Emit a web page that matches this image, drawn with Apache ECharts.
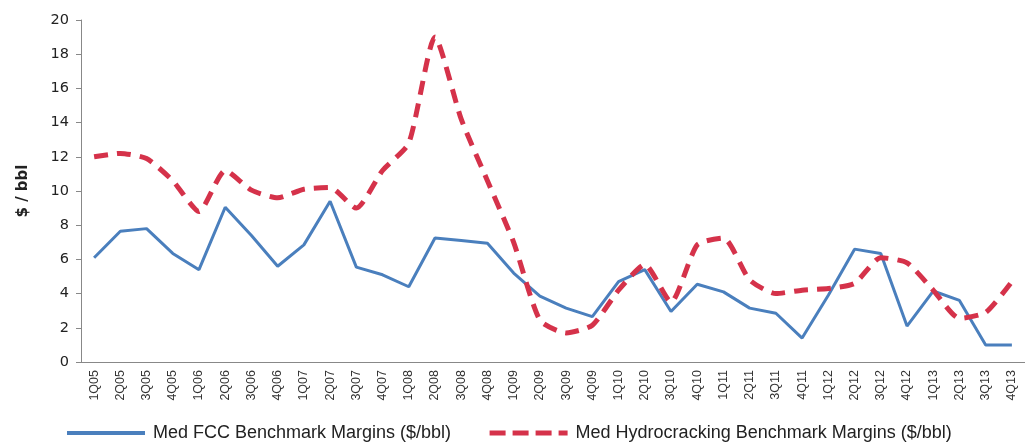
<!DOCTYPE html>
<html lang="en">
<head>
    <meta charset="UTF-8">
    <title>Med refining margins</title>
    <script src="https://cdn.jsdelivr.net/npm/echarts@6/dist/echarts.min.js"></script>
    <style>
        html, body { margin: 0; padding: 0; background: #fff; }
        #chart { width: 1025px; height: 444px; }
    </style>
</head>
<body>
    <div id="chart"></div>
    <script>
        var quarters = ['1Q05','2Q05','3Q05','4Q05','1Q06','2Q06','3Q06','4Q06','1Q07','2Q07','3Q07','4Q07',
                        '1Q08','2Q08','3Q08','4Q08','1Q09','2Q09','3Q09','4Q09','1Q10','2Q10','3Q10','4Q10',
                        '1Q11','2Q11','3Q11','4Q11','1Q12','2Q12','3Q12','4Q12','1Q13','2Q13','3Q13','4Q13'];
        var fccMargins = [6.1, 7.65, 7.8, 6.35, 5.4, 9.05, 7.4, 5.6, 6.85, 9.4, 5.55, 5.1,
                          4.4, 7.25, 7.1, 6.95, 5.2, 3.85, 3.15, 2.65, 4.7, 5.4, 2.95, 4.55,
                          4.1, 3.15, 2.85, 1.4, 3.9, 6.6, 6.35, 2.1, 4.15, 3.6, 1.0, 1.0];
        var hydroMargins = [12.0, 12.2, 11.9, 10.6, 8.8, 11.2, 10.05, 9.6, 10.1, 10.2, 9.0, 11.2,
                            12.8, 19.0, 14.2, 10.6, 7.0, 2.45, 1.7, 2.15, 4.2, 5.7, 3.5, 6.85,
                            7.25, 4.8, 4.0, 4.2, 4.3, 4.6, 6.1, 5.8, 4.2, 2.55, 2.9, 4.7];
        var yTicks = { min: 0, max: 20, interval: 2 };

        var fccName = 'Med FCC Benchmark Margins ($/bbl)';
        var hydroName = 'Med Hydrocracking Benchmark Margins ($/bbl)';

        var chart = echarts.init(document.getElementById('chart'));
        chart.setOption({
            animation: false,
            backgroundColor: '#fff',
            grid: { left: 81, right: -8, top: 20, bottom: 82 },
            legend: {
                top: 419,
                left: 60,
                itemWidth: 78,
                itemHeight: 12,
                itemGap: 36,
                itemStyle: { opacity: 0 },
                textStyle: { fontFamily: 'Liberation Sans', fontSize: 18, color: '#222', padding: [0, 0, 0, 3] },
                data: [
                    { name: fccName, lineStyle: { width: 4 } },
                    { name: hydroName, lineStyle: { width: 5, type: [16, 7] } }
                ]
            },
            xAxis: {
                type: 'category',
                data: quarters,
                boundaryGap: true,
                axisLine: { lineStyle: { color: '#888', width: 1 } },
                axisTick: { length: 4, lineStyle: { color: '#888' } },
                axisLabel: {
                    rotate: 90,
                    interval: 0,
                    fontFamily: 'Liberation Sans',
                    fontSize: 12.5,
                    color: '#333',
                    margin: 8
                }
            },
            yAxis: {
                type: 'value',
                min: yTicks.min,
                max: yTicks.max,
                interval: yTicks.interval,
                name: '$ / bbl',
                nameLocation: 'middle',
                nameGap: 50,
                nameRotate: 90,
                nameTextStyle: { fontFamily: 'DejaVu Sans', fontSize: 15, fontWeight: 'bold', color: '#222' },
                splitLine: { show: false },
                axisLine: { show: true, lineStyle: { color: '#888', width: 1 } },
                axisTick: { show: true, length: 5, lineStyle: { color: '#888' } },
                axisLabel: { fontFamily: 'DejaVu Sans', fontSize: 14.5, color: '#222', margin: 12 }
            },
            series: [
                {
                    name: fccName,
                    type: 'line',
                    data: fccMargins,
                    showSymbol: false,
                    symbol: 'none',
                    itemStyle: { color: '#4a7fbd' },
                    lineStyle: { color: '#4a7fbd', width: 3 }
                },
                {
                    name: hydroName,
                    type: 'line',
                    data: hydroMargins,
                    smooth: 0.2,
                    showSymbol: false,
                    symbol: 'none',
                    itemStyle: { color: '#d5324a' },
                    lineStyle: { color: '#d5324a', width: 5, type: [14, 9] }
                }
            ]
        });
    </script>
</body>
</html>
